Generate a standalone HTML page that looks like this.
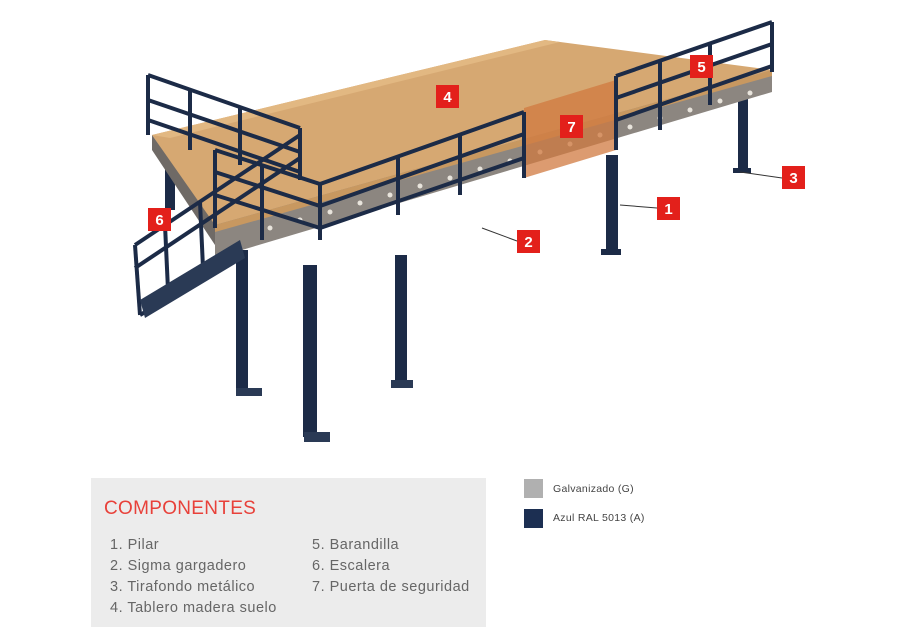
<!DOCTYPE html>
<html><head><meta charset="utf-8"><style>
body{margin:0;width:904px;height:643px;background:#fff;overflow:hidden;position:relative;font-family:"Liberation Sans",sans-serif}
.lg{position:absolute;left:91px;top:478px;width:395px;height:149px;background:#ececec}
.t{position:absolute;color:#e8413a;font-size:19px;left:13px;top:20px;letter-spacing:0.3px}
.it{position:absolute;color:#666;font-size:14.5px;line-height:21px;letter-spacing:0.5px}
.sw{position:absolute;width:19px;height:19px}
.st{position:absolute;font-size:10.5px;color:#444;letter-spacing:0.3px}
</style></head><body>
<svg width="904" height="470" style="position:absolute;left:0;top:0">
<g fill="#1c2b47">
<rect x="236" y="250" width="12" height="140"/><rect x="236" y="388" width="26" height="8" fill="#2a3a55"/>
<rect x="303" y="265" width="14" height="172"/><rect x="304" y="432" width="26" height="10" fill="#2a3a55"/>
<rect x="395" y="255" width="12" height="128"/><rect x="391" y="380" width="22" height="8" fill="#2a3a55"/>
<rect x="606" y="155" width="12" height="98"/><rect x="601" y="249" width="20" height="6"/>
<rect x="738" y="90" width="10" height="80"/><rect x="733" y="168" width="18" height="5"/>
<rect x="165" y="150" width="10" height="60"/>
</g>
<polygon points="152,135 545,40 772,70 215,228" fill="#d6a872"/>
<polygon points="152,135 545,40 560,42 170,138" fill="#e2b882"/>
<polygon points="215,225 772,70 772,92 215,258" fill="#8c8680"/>
<polygon points="215,225 772,70 772,76 215,232" fill="#c89860"/>
<polygon points="152,135 215,225 215,245 152,150" fill="#6f6a66"/>
<g fill="#e8e4dc" transform="translate(0,-20)">
<circle cx="270" cy="248" r="2.5"/><circle cx="300" cy="240" r="2.5"/><circle cx="330" cy="232" r="2.5"/><circle cx="360" cy="223" r="2.5"/><circle cx="390" cy="215" r="2.5"/><circle cx="420" cy="206" r="2.5"/><circle cx="450" cy="198" r="2.5"/><circle cx="480" cy="189" r="2.5"/><circle cx="510" cy="181" r="2.5"/><circle cx="540" cy="172" r="2.5"/><circle cx="570" cy="164" r="2.5"/><circle cx="600" cy="155" r="2.5"/><circle cx="630" cy="147" r="2.5"/><circle cx="660" cy="138" r="2.5"/><circle cx="690" cy="130" r="2.5"/><circle cx="720" cy="121" r="2.5"/><circle cx="750" cy="113" r="2.5"/>
</g>
<polygon points="524,108 616,80 616,150 524,178" fill="#d07a40" opacity="0.75"/>
<g stroke="#1c2b47" stroke-width="4" fill="none">
<polyline points="148,75 300,128"/><polyline points="148,100 300,152"/><polyline points="148,120 300,172"/>
<line x1="148" y1="75" x2="148" y2="135"/><line x1="190" y1="89" x2="190" y2="150"/><line x1="240" y1="107" x2="240" y2="165"/><line x1="300" y1="128" x2="300" y2="180"/>
<polyline points="215,150 320,184 524,112"/><polyline points="215,172 320,206 524,134"/><polyline points="215,195 320,228 524,158"/>
<line x1="215" y1="150" x2="215" y2="228"/><line x1="262" y1="165" x2="262" y2="240"/><line x1="320" y1="184" x2="320" y2="240"/><line x1="398" y1="157" x2="398" y2="215"/><line x1="460" y1="135" x2="460" y2="195"/><line x1="524" y1="112" x2="524" y2="178"/>
<polyline points="616,76 772,22"/><polyline points="616,98 772,44"/><polyline points="616,120 772,66"/>
<line x1="616" y1="76" x2="616" y2="150"/><line x1="660" y1="61" x2="660" y2="130"/><line x1="710" y1="44" x2="710" y2="105"/><line x1="772" y1="22" x2="772" y2="72"/>
<polyline points="135,245 300,135"/><polyline points="135,268 300,158"/><line x1="135" y1="245" x2="140" y2="315"/>
<line x1="165" y1="225" x2="168" y2="290"/><line x1="200" y1="202" x2="203" y2="268"/>
<polyline points="140,315 245,255"/>
</g>
<polygon points="140,300 240,240 245,258 145,318" fill="#2a3a55"/>
<g stroke="#333" stroke-width="1"><line x1="620" y1="205" x2="657" y2="208"/><line x1="482" y1="228" x2="517" y2="241"/><line x1="740" y1="172" x2="782" y2="178"/></g>
<g font-family="Liberation Sans" font-size="15" font-weight="bold" fill="#fff" text-anchor="middle">
<rect x="436" y="85" width="23" height="23" fill="#e3201b"/><text x="447.5" y="102">4</text>
<rect x="560" y="115" width="23" height="23" fill="#e3201b"/><text x="571.5" y="132">7</text>
<rect x="690" y="55" width="23" height="23" fill="#e3201b"/><text x="701.5" y="72">5</text>
<rect x="657" y="197" width="23" height="23" fill="#e3201b"/><text x="668.5" y="214">1</text>
<rect x="517" y="230" width="23" height="23" fill="#e3201b"/><text x="528.5" y="247">2</text>
<rect x="782" y="166" width="23" height="23" fill="#e3201b"/><text x="793.5" y="183">3</text>
<rect x="148" y="208" width="23" height="23" fill="#e3201b"/><text x="159.5" y="225">6</text>
</g>
</svg>
<div class="lg"><div class="t">COMPONENTES</div>
<div class="it" style="left:19px;top:57px">1. Pilar<br>2. Sigma gargadero<br>3. Tirafondo metálico<br>4. Tablero madera suelo</div>
<div class="it" style="left:221px;top:57px">5. Barandilla<br>6. Escalera<br>7. Puerta de seguridad</div></div>
<div class="sw" style="left:524px;top:479px;background:#b0b0b0"></div><div class="st" style="left:553px;top:483px">Galvanizado (G)</div>
<div class="sw" style="left:524px;top:509px;background:#1c2f52"></div><div class="st" style="left:553px;top:512px">Azul RAL 5013 (A)</div>
</body></html>
